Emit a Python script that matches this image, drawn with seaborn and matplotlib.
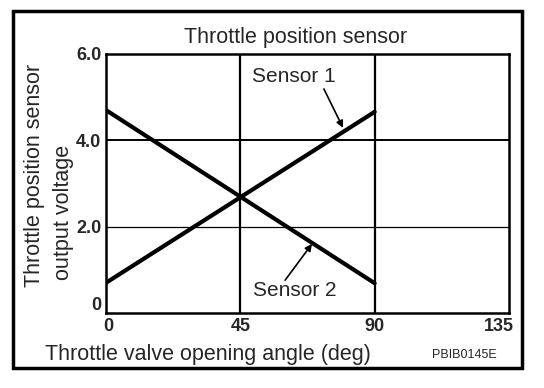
import matplotlib
matplotlib.use("Agg")
import matplotlib.pyplot as plt
from matplotlib.patches import Rectangle
from matplotlib.transforms import ScaledTranslation
import seaborn as sns
import pandas as pd

# Data
angles = [0, 90]
sensor1 = [0.7, 4.66]
sensor2 = [4.7, 0.69]
x_ticks = [0, 45, 90, 135]
x_tick_labels = ["0", "45", "90", "135"]
y_ticks = [0, 2, 4, 6]
y_tick_labels = ["0", "2.0", "4.0", "6.0"]

df = pd.DataFrame({
    "angle": angles + angles,
    "voltage": sensor1 + sensor2,
    "sensor": ["Sensor 1"] * len(angles) + ["Sensor 2"] * len(angles),
})

sns.set_style("white")
plt.rcParams["font.family"] = ["Liberation Sans", "DejaVu Sans"]

W, H = 544, 388
fig = plt.figure(figsize=(W / 100, H / 100), dpi=100)
ax = fig.add_axes([106 / W, 1 - 313 / H, 403 / W, 259 / H])

sns.lineplot(data=df, x="angle", y="voltage", units="sensor", estimator=None,
             color="black", linewidth=3.0, ax=ax, legend=False, zorder=3)

ax.set_xlim(0, 135)
ax.set_ylim(0, 6)
for v in [45, 90]:
    ax.axvline(v, color="black", linewidth=1.6, zorder=2)
ax.axhline(4, color="black", linewidth=1.4, zorder=2)
ax.axhline(2, color="black", linewidth=0.9, zorder=2)
for s in ax.spines.values():
    s.set_color("black")
    s.set_linewidth(1.8)

ax.set_xticks(x_ticks)
ax.set_xticklabels(x_tick_labels, fontsize=13, fontweight="bold")
ax.set_yticks(y_ticks)
ax.set_yticklabels(y_tick_labels, fontsize=13, fontweight="bold")
ax.tick_params(length=0, pad=3.5)
ax.set_xlabel("")
ax.set_ylabel("")

# small offsets of some tick labels as in the reference
xl = ax.get_xticklabels()
xl[0].set_transform(xl[0].get_transform() + ScaledTranslation(2 / 100, 0, fig.dpi_scale_trans))
xl[-1].set_transform(xl[-1].get_transform() + ScaledTranslation(-10 / 100, 0, fig.dpi_scale_trans))
yl = ax.get_yticklabels()
yl[0].set_transform(yl[0].get_transform() + ScaledTranslation(0, 10 / 100, fig.dpi_scale_trans))

fig.text(296 / W, 1 - 43 / H, "Throttle position sensor", fontsize=15.5,
         ha="center", va="baseline")

ax.text(63, 5.47, "Sensor 1", fontsize=15, ha="center", va="center")
ax.text(63.3, 0.53, "Sensor 2", fontsize=15, ha="center", va="center")
ax.annotate("", xy=(79.4, 4.29), xytext=(73, 5.19),
            arrowprops=dict(arrowstyle="-|>", color="black", lw=1.2,
                            mutation_scale=10, shrinkA=0, shrinkB=0))
ax.annotate("", xy=(69, 1.6), xytext=(60, 0.76),
            arrowprops=dict(arrowstyle="-|>", color="black", lw=1.2,
                            mutation_scale=10, shrinkA=0, shrinkB=0))

fig.text(35 / W, 1 - 287 / H, "Throttle position sensor", rotation=90,
         fontsize=15.5, ha="center", va="bottom")
fig.text(63 / W, 1 - 280 / H, "output voltage", rotation=90,
         fontsize=15.5, ha="center", va="bottom")
fig.text(208 / W, 1 - 360 / H, "Throttle valve opening angle (deg)",
         fontsize=15.5, ha="center", va="baseline")
fig.text(464 / W, 1 - 358 / H, "PBIB0145E", fontsize=9, ha="center",
         va="baseline")

fig.patches.append(Rectangle((13 / W, 1 - 368 / H), 509 / W, 357 / H,
                             transform=fig.transFigure, fill=False,
                             edgecolor="black", linewidth=2.5))

fig.savefig("out.png", dpi=100)
